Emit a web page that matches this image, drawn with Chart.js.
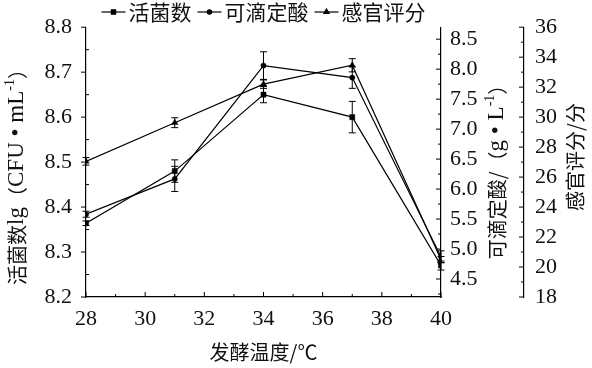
<!DOCTYPE html>
<html>
<head>
<meta charset="utf-8">
<script src="https://cdn.jsdelivr.net/npm/chart.js@4.4.1/dist/chart.umd.min.js"></script>
<style>
html, body { margin: 0; padding: 0; background: #fff; }
#wrap { width: 592px; height: 368px; position: relative; }
</style>
</head>
<body>
<div id="wrap"><canvas id="tempChart"></canvas></div>
<script>
// Data
const temps = [28, 31, 34, 37, 40];
const viable = [8.364, 8.48, 8.65, 8.60, 8.27];
const viableErr = [0.005, 0.025, 0.018, 0.035, 0.01];
const acid = [5.58, 6.17, 8.06, 7.86, 4.87];
const acidErr = [0.05, 0.21, 0.23, 0.18, 0.1];
const sensory = [27.05, 29.63, 32.2, 33.46, 20.5];
const sensoryErr = [0.25, 0.33, 0.28, 0.44, 0.2];
const seriesNames = ['活菌数', '可滴定酸', '感官评分'];
const pointStyles = ['rect', 'circle', 'triangle'];

// Tick labels
const xTicks = [28, 30, 32, 34, 36, 38, 40];
const viableTicks = [8.2, 8.3, 8.4, 8.5, 8.6, 8.7, 8.8];
const acidTicks = [4.5, 5.0, 5.5, 6.0, 6.5, 7.0, 7.5, 8.0, 8.5];
const sensoryTicks = [18, 20, 22, 24, 26, 28, 30, 32, 34, 36];

const serif = '"Liberation Serif", "Noto Sans CJK SC", serif';
const cjk = '"Noto Sans CJK SC", "Liberation Serif", sans-serif';
const ink = '#111';

Chart.defaults.font.family = 'Liberation Serif';
Chart.defaults.color = ink;

function fixTicks(list) {
    return function(scale) {
        scale.ticks = list.map(v => ({ value: v }));
    };
}

function baseLine(data, idx, axis) {
    return {
        label: seriesNames[idx],
        data: data.map((v, i) => ({ x: temps[i], y: v })),
        yAxisID: axis,
        borderColor: '#000',
        backgroundColor: '#000',
        borderWidth: 1.2,
        pointStyle: pointStyles[idx],
        pointRadius: idx === 1 ? 2.6 : 3.6,
        pointBorderWidth: 0.5,
        tension: 0,
        fill: false
    };
}

const errSets = [viableErr, acidErr, sensoryErr];

// Error bars, drawn through the scales
const errorBars = {
    id: 'errorBars',
    beforeDatasetsDraw(chart) {
        const ctx = chart.ctx;
        ctx.save();
        ctx.strokeStyle = '#000';
        ctx.lineWidth = 1;
        chart.data.datasets.forEach((ds, d) => {
            const ys = chart.scales[ds.yAxisID];
            ds.data.forEach((p, i) => {
                const e = errSets[d][i];
                const px = chart.scales.x.getPixelForValue(p.x);
                const top = ys.getPixelForValue(p.y + e);
                const bot = ys.getPixelForValue(p.y - e);
                ctx.beginPath();
                ctx.moveTo(px, top); ctx.lineTo(px, bot);
                ctx.moveTo(px - 3.5, top); ctx.lineTo(px + 3.5, top);
                ctx.moveTo(px - 3.5, bot); ctx.lineTo(px + 3.5, bot);
                ctx.stroke();
            });
        });
        ctx.restore();
    }
};

function minorsOf(list, min, max) {
    const step = list[1] - list[0];
    const out = [];
    for (let i = -1; i < list.length; i++) {
        const v = (i < 0 ? list[0] - step : list[i]) + step / 2;
        if (v > min + 1e-9 && v < max - 1e-9) out.push(v);
    }
    return out;
}

// Tick marks: majors and minors, direction as in the figure
const tickMarks = {
    id: 'tickMarks',
    afterDraw(chart) {
        const ctx = chart.ctx;
        const s = chart.scales;
        ctx.save();
        ctx.strokeStyle = '#000';
        ctx.lineWidth = 1;
        ctx.beginPath();
        const xb = s.x.top;
        xTicks.forEach(v => { const p = s.x.getPixelForValue(v); ctx.moveTo(p, xb); ctx.lineTo(p, xb - 5); });
        minorsOf(xTicks, 28, 40).forEach(v => { const p = s.x.getPixelForValue(v); ctx.moveTo(p, xb); ctx.lineTo(p, xb - 3); });
        const yl = s.y.right;
        viableTicks.forEach(v => { const p = s.y.getPixelForValue(v); ctx.moveTo(yl, p); ctx.lineTo(yl - 5, p); });
        minorsOf(viableTicks, 8.2, 8.8).forEach(v => { const p = s.y.getPixelForValue(v); ctx.moveTo(yl, p); ctx.lineTo(yl + 3, p); });
        const ya = s.yAcid.left;
        acidTicks.forEach(v => { const p = s.yAcid.getPixelForValue(v); ctx.moveTo(ya, p); ctx.lineTo(ya - 5, p); });
        minorsOf(acidTicks, 4.2, 8.7).forEach(v => { const p = s.yAcid.getPixelForValue(v); ctx.moveTo(ya, p); ctx.lineTo(ya - 3, p); });
        const ysn = s.ySens.left;
        sensoryTicks.forEach(v => { const p = s.ySens.getPixelForValue(v); ctx.moveTo(ysn, p); ctx.lineTo(ysn - 5, p); });
        minorsOf(sensoryTicks, 18, 36).forEach(v => { const p = s.ySens.getPixelForValue(v); ctx.moveTo(ysn, p); ctx.lineTo(ysn - 3, p); });
        ctx.stroke();
        ctx.restore();
    }
};

// rich text: segments (c = CJK, s = superscript), centred at (x, y), rotated
function segFont(sg) {
    if (sg.s) return '14px ' + serif;
    if (sg.c) return '20px ' + cjk;
    return '23px ' + serif;
}

function drawRich(ctx, segs, x, y, rot) {
    ctx.save();
    ctx.translate(x, y);
    ctx.rotate(rot);
    ctx.fillStyle = ink;
    ctx.textBaseline = 'middle';
    ctx.textAlign = 'left';
    let total = 0;
    segs.forEach(sg => { ctx.font = segFont(sg); total += ctx.measureText(sg.t).width; });
    let cx = -total / 2;
    segs.forEach(sg => {
        ctx.font = segFont(sg);
        ctx.fillText(sg.t, cx, sg.s ? -7 : 0);
        cx += ctx.measureText(sg.t).width;
    });
    ctx.restore();
}

const axisTitles = {
    id: 'axisTitles',
    afterDraw(chart) {
        const ctx = chart.ctx;
        const a = chart.chartArea;
        const mid = (a.left + a.right) / 2;
        const up = -Math.PI / 2;
        drawRich(ctx, [{ t: '发酵温度/℃', c: true }], mid, 352, 0);
        drawRich(ctx, [{ t: '活菌数', c: true }, { t: 'lg' }, { t: '（', c: true }, { t: 'CFU • mL' },
            { t: '-1', s: true }, { t: '）', c: true }], 17, 172, up);
        drawRich(ctx, [{ t: '可滴定酸/（', c: true }, { t: 'g • L' }, { t: '-1', s: true }, { t: '）', c: true }],
            497, 167, up);
        drawRich(ctx, [{ t: '感官评分/分', c: true }], 575, 157, up);
    }
};

// Legend: line + marker, centred over the plot area
const lineLegend = {
    id: 'lineLegend',
    afterDraw(chart) {
        const ctx = chart.ctx;
        const a = chart.chartArea;
        const iconW = 24, gapIcon = 3, gapItem = 6, y = 12;
        ctx.save();
        ctx.font = '21px ' + cjk;
        ctx.textBaseline = 'middle';
        const widths = chart.data.datasets.map(ds => ctx.measureText(ds.label).width);
        const total = widths.reduce((s, w) => s + w + iconW + gapIcon, 0) + gapItem * (widths.length - 1);
        let x = (a.left + a.right) / 2 - total / 2;
        chart.data.datasets.forEach((ds, i) => {
            ctx.strokeStyle = '#000';
            ctx.lineWidth = 1.2;
            ctx.beginPath();
            ctx.moveTo(x, y); ctx.lineTo(x + iconW, y);
            ctx.stroke();
            Chart.helpers.drawPoint(ctx, {
                pointStyle: ds.pointStyle, radius: i === 1 ? 2.2 : 3, borderWidth: 0.5
            }, x + iconW / 2, y);
            ctx.fillStyle = ink;
            ctx.fillText(ds.label, x + iconW + gapIcon, y);
            x += iconW + gapIcon + widths[i] + gapItem;
        });
        ctx.restore();
    }
};

const tickFont = { size: 22, family: 'Liberation Serif' };

const chartConfig = {
    type: 'line',
    data: {
        datasets: [
            baseLine(viable, 0, 'y'),
            baseLine(acid, 1, 'yAcid'),
            baseLine(sensory, 2, 'ySens')
        ]
    },
    options: {
        responsive: true,
        maintainAspectRatio: false,
        animation: false,
        events: [],
        layout: { padding: { top: 21, left: 0, right: 0, bottom: 0 } },
        plugins: { legend: { display: false }, tooltip: { enabled: false } },
        scales: {
            x: {
                type: 'linear', position: 'bottom', min: 28, max: 40,
                afterBuildTicks: fixTicks(xTicks),
                afterFit: s => { s.height = 71; },
                grid: { display: false, drawTicks: false },
                border: { display: true, color: '#000', width: 1.2 },
                ticks: { font: tickFont, color: ink, padding: 9, maxRotation: 0 }
            },
            y: {
                type: 'linear', position: 'left', min: 8.2, max: 8.8,
                afterBuildTicks: fixTicks(viableTicks),
                afterFit: s => { s.width = 86; },
                grid: { display: false, drawTicks: false },
                border: { display: true, color: '#000', width: 1.2 },
                ticks: { font: tickFont, color: ink, padding: 14, callback: v => v.toFixed(1) }
            },
            yAcid: {
                type: 'linear', position: 'right', min: 4.2, max: 8.7, weight: 1,
                afterBuildTicks: fixTicks(acidTicks),
                afterFit: s => { s.width = 83; },
                grid: { display: false, drawTicks: false },
                border: { display: true, color: '#000', width: 1.2 },
                ticks: { font: tickFont, color: ink, padding: 9, callback: v => v.toFixed(1) }
            },
            ySens: {
                type: 'linear', position: 'right', min: 18, max: 36, weight: 2,
                afterBuildTicks: fixTicks(sensoryTicks),
                afterFit: s => { s.width = 68; },
                grid: { display: false, drawTicks: false },
                border: { display: true, color: '#000', width: 1.2 },
                ticks: { font: tickFont, color: ink, padding: 11 }
            }
        }
    },
    plugins: [errorBars, tickMarks, axisTitles, lineLegend]
};

const tempChart = new Chart(document.getElementById('tempChart'), chartConfig);
</script>
</body>
</html>
